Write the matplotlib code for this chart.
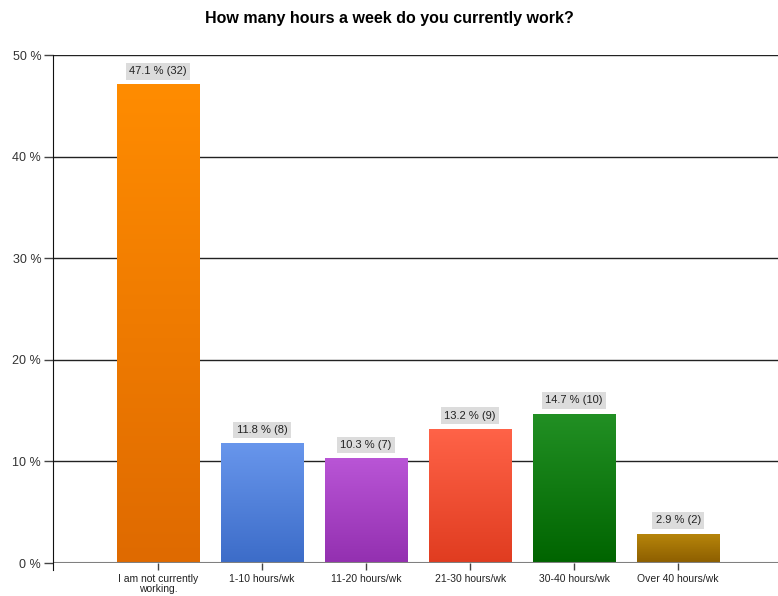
import numpy as np
import matplotlib.pyplot as plt
from matplotlib.colors import LinearSegmentedColormap

plt.rcParams['font.family'] = ['Liberation Sans', 'DejaVu Sans']

categories = ['I am not currently\nworking.', '1-10 hours/wk', '11-20 hours/wk',
              '21-30 hours/wk', '30-40 hours/wk', 'Over 40 hours/wk']
percents = [47.1, 11.8, 10.3, 13.2, 14.7, 2.9]
counts = [32, 8, 7, 9, 10, 2]
# (top, bottom) colours of each bar's gradient
top_colors = ['#ff8c00', '#6896ec', '#b955d6', '#ff6348', '#229024', '#b8860b']
bottom_colors = ['#df6a00', '#3c6cc8', '#9330b0', '#e03c20', '#006400', '#8c5e00']

fig = plt.figure(figsize=(7.78, 5.96), dpi=100)
ax = fig.add_axes([53 / 778, 1 - 563 / 596, 725 / 778, 508 / 596])

x = np.arange(len(categories))
bars = ax.bar(x, percents, width=0.79, color='none', edgecolor='none', zorder=3)

grad = np.linspace(0, 1, 256).reshape(-1, 1)
for b, c1, c2 in zip(bars, top_colors, bottom_colors):
    cmap = LinearSegmentedColormap.from_list('g', [c2, c1])
    x0, y0 = b.get_x(), b.get_y()
    w, h = b.get_width(), b.get_height()
    im = ax.imshow(grad, cmap=cmap, origin='lower', aspect='auto',
                   extent=[x0, x0 + w, y0, y0 + h], zorder=3)
    im.set_clip_path(b)

for xi, p, n in zip(x, percents, counts):
    ax.annotate(f'{p} % ({n})', (xi, p), xytext=(0, 9.5), textcoords='offset points',
                ha='center', va='center', fontsize=8, color='#222222',
                bbox=dict(boxstyle='square,pad=0.3', fc='#dcdcdc', ec='none'),
                zorder=4)

ax.set_xlim(-1.01, 5.96)
ax.set_ylim(0, 50)
ax.set_yticks(range(0, 51, 10))
ax.set_yticklabels([f'{v} %' for v in range(0, 51, 10)], color='#333333', fontsize=9)
ax.set_xticks(x)
ax.set_xticklabels(categories, fontsize=7.5, color='#222222', linespacing=1.0)
ax.tick_params(axis='y', length=6.5, width=1, color='#444444', pad=2)
ax.tick_params(axis='x', length=5, width=1, color='#444444', pad=3)

for v in range(10, 51, 10):
    ax.axhline(v, color='#222222', lw=1, zorder=1)
ax.axhline(0, color='#808080', lw=1.5, zorder=4)

for s in ['top', 'right', 'bottom']:
    ax.spines[s].set_visible(False)
ax.spines['left'].set_color('#111111')
ax.spines['left'].set_bounds(-0.7, 50)
ax.spines['left'].set_zorder(5)

fig.suptitle('How many hours a week do you currently work?', x=0.5, y=0.982,
             fontsize=11.5, fontweight='bold', va='top')

fig.savefig('out.png', dpi=100)
